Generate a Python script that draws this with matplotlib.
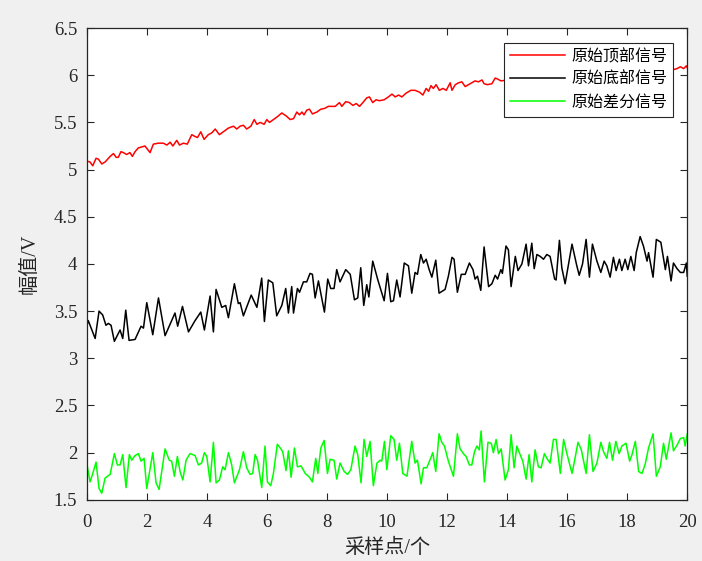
"""
Raw top / bottom / differential signals (MATLAB-style figure)
"""
import matplotlib
matplotlib.use("Agg")
import matplotlib.pyplot as plt
import numpy as np

plt.rcParams['font.family'] = ['Liberation Serif', 'Noto Sans CJK SC']

# red: top signal (part under the legend estimated from the trend)
top_x = [0, 0.10, 0.19, 0.30, 0.38, 0.49, 0.60, 0.77, 0.88, 0.97, 1.04, 1.13,
         1.21, 1.32, 1.43, 1.51, 1.60, 1.71, 1.82, 1.93, 2.10, 2.21, 2.38,
         2.54, 2.66, 2.77, 2.86, 2.99, 3.08, 3.21, 3.34, 3.49, 3.60, 3.68,
         3.79, 3.90, 4.04, 4.16, 4.27, 4.41, 4.54, 4.71, 4.88, 4.99, 5.10,
         5.21, 5.32, 5.46, 5.57, 5.66, 5.77, 5.90, 5.99, 6.08, 6.21, 6.34,
         6.49, 6.63, 6.77, 6.88, 6.99, 7.08, 7.16, 7.23, 7.32, 7.41, 7.51,
         7.66, 7.79, 7.93, 8.04, 8.16, 8.27, 8.41, 8.49, 8.62, 8.74, 8.86,
         8.97, 9.08, 9.19, 9.32, 9.41, 9.52, 9.63, 9.74, 9.90, 10.04, 10.16,
         10.27, 10.38, 10.49, 10.63, 10.79, 10.93, 11.08, 11.19, 11.30, 11.38,
         11.46, 11.54, 11.63, 11.74, 11.86, 11.97, 12.10, 12.16, 12.27, 12.38,
         12.49, 12.60, 12.71, 12.82, 12.93, 13.04, 13.16, 13.23, 13.34, 13.49,
         13.60, 13.68, 13.79, 14.5, 15.5, 16.5, 17.5, 18.5, 19.54, 19.66,
         19.77, 19.88, 19.97, 20.0]
top_v = [5.09, 5.08, 5.04, 5.12, 5.11, 5.06, 5.08, 5.14, 5.17, 5.13, 5.13, 5.19,
         5.18, 5.16, 5.18, 5.14, 5.19, 5.23, 5.24, 5.25, 5.18, 5.27, 5.28,
         5.28, 5.26, 5.29, 5.25, 5.31, 5.26, 5.28, 5.27, 5.37, 5.35, 5.34,
         5.40, 5.32, 5.37, 5.39, 5.43, 5.37, 5.40, 5.44, 5.46, 5.43, 5.46,
         5.47, 5.43, 5.46, 5.53, 5.48, 5.50, 5.48, 5.53, 5.50, 5.53, 5.56,
         5.60, 5.57, 5.53, 5.54, 5.61, 5.58, 5.61, 5.58, 5.63, 5.64, 5.59,
         5.61, 5.64, 5.65, 5.67, 5.67, 5.67, 5.71, 5.67, 5.72, 5.71, 5.68,
         5.70, 5.67, 5.71, 5.76, 5.77, 5.71, 5.74, 5.73, 5.74, 5.77, 5.80,
         5.77, 5.79, 5.77, 5.81, 5.84, 5.84, 5.82, 5.79, 5.86, 5.83,
         5.89, 5.86, 5.90, 5.84, 5.86, 5.84, 5.92, 5.84, 5.90, 5.92,
         5.93, 5.88, 5.90, 5.92, 5.94, 5.93, 5.95, 5.91, 5.90, 5.91,
         5.97, 5.96, 5.94, 5.97, 5.99, 6.01, 6.02, 6.04, 6.06, 6.07,
         6.09, 6.07, 6.10, 6.08]

# black: bottom signal
bot_x = [0, 0.04, 0.27, 0.40, 0.52, 0.63, 0.71, 0.80, 0.91, 1.10, 1.19, 1.29,
         1.40, 1.60, 1.80, 1.88, 1.99, 2.19, 2.38, 2.60, 2.93, 3.02, 3.18,
         3.38, 3.60, 3.79, 3.91, 4.10, 4.21, 4.30, 4.49, 4.62, 4.71, 4.91,
         5.04, 5.10, 5.21, 5.47, 5.66, 5.82, 5.91, 6.04, 6.19, 6.32, 6.49,
         6.62, 6.71, 6.82, 6.88, 7.01, 7.08, 7.21, 7.32, 7.43, 7.51, 7.60,
         7.71, 7.91, 8.02, 8.12, 8.23, 8.32, 8.43, 8.62, 8.77, 8.91, 9.02,
         9.12, 9.22, 9.32, 9.39, 9.52, 9.69, 9.90, 10.01, 10.12, 10.21,
         10.32, 10.43, 10.57, 10.71, 10.82, 10.93, 11.01, 11.12, 11.21,
         11.30, 11.40, 11.49, 11.62, 11.73, 11.93, 12.04, 12.16, 12.23,
         12.34, 12.47, 12.60, 12.74, 12.86, 12.93, 13.01, 13.12, 13.23,
         13.38, 13.49, 13.60, 13.68, 13.79, 13.84, 13.96, 14.04, 14.13,
         14.27, 14.36, 14.49, 14.63, 14.71, 14.82, 14.90, 14.99, 15.10,
         15.21, 15.32, 15.43, 15.58, 15.63, 15.74, 15.82, 15.93, 16.16,
         16.32, 16.40, 16.51, 16.63, 16.74, 16.84, 16.99, 17.12, 17.23,
         17.32, 17.43, 17.54, 17.63, 17.74, 17.82, 17.93, 18.02, 18.12,
         18.23, 18.30, 18.43, 18.54, 18.66, 18.71, 18.86, 18.97, 19.12,
         19.27, 19.34, 19.46, 19.54, 19.66, 19.77, 19.88, 19.97, 20.0]
bot_v = [3.35, 3.40, 3.21, 3.50, 3.46, 3.35, 3.37, 3.35, 3.18, 3.30, 3.21, 3.51,
         3.19, 3.20, 3.34, 3.32, 3.59, 3.25, 3.64, 3.24, 3.48, 3.34, 3.55,
         3.28, 3.40, 3.49, 3.30, 3.66, 3.28, 3.73, 3.54, 3.56, 3.43, 3.79,
         3.58, 3.59, 3.45, 3.67, 3.54, 3.85, 3.39, 3.83, 3.80, 3.45, 3.56,
         3.74, 3.48, 3.76, 3.48, 3.74, 3.70, 3.81, 3.81, 3.90, 3.89, 3.64,
         3.82, 3.49, 3.84, 3.74, 3.74, 3.94, 3.81, 3.94, 3.89, 3.62, 3.64,
         3.96, 3.56, 3.78, 3.65, 4.03, 3.83, 3.61, 3.90, 3.60, 3.61,
         3.83, 3.65, 4.01, 3.98, 3.69, 3.91, 3.89, 4.10, 4.01,
         4.05, 3.94, 3.86, 4.04, 3.69, 3.73, 3.87, 4.07, 4.05,
         3.70, 3.89, 3.89, 4.01, 3.94, 3.84, 3.87, 3.72, 4.18,
         3.76, 3.79, 3.88, 3.84, 3.94, 3.90, 4.19, 4.15, 3.76,
         4.08, 3.93, 4.00, 4.21, 3.98, 4.22, 3.95, 4.10, 4.08,
         4.05, 4.10, 4.08, 3.84, 3.83, 4.25, 3.96, 3.79, 4.21,
         3.98, 3.88, 4.00, 4.26, 3.86, 4.21, 4.03, 3.91, 4.03,
         3.98, 3.86, 4.07, 3.93, 4.05, 3.93, 4.05, 3.94, 4.08,
         3.93, 4.12, 4.29, 4.19, 4.03, 4.12, 3.86, 4.26, 4.23,
         3.94, 4.08, 3.82, 4.01, 3.95, 3.91, 3.91, 4.01, 3.87]

# green: differential signal
diff_x = [0, 0.10, 0.21, 0.30, 0.40, 0.49, 0.60, 0.68, 0.77, 0.91, 1.01, 1.10,
          1.19, 1.30, 1.41, 1.49, 1.60, 1.71, 1.80, 1.90, 1.99, 2.19, 2.30,
          2.40, 2.60, 2.74, 2.82, 2.91, 3.01, 3.10, 3.19, 3.30, 3.43, 3.60,
          3.71, 3.82, 3.91, 3.99, 4.10, 4.21, 4.30, 4.41, 4.52, 4.60, 4.71,
          4.82, 4.91, 5.08, 5.21, 5.32, 5.43, 5.52, 5.60, 5.68, 5.82, 5.93,
          6.01, 6.12, 6.21, 6.34, 6.46, 6.52, 6.63, 6.71, 6.80, 6.91, 7.01,
          7.13, 7.27, 7.41, 7.51, 7.62, 7.69, 7.79, 7.90, 8.01, 8.10, 8.23,
          8.32, 8.43, 8.57, 8.68, 8.79, 8.93, 9.02, 9.13, 9.23, 9.32, 9.43,
          9.54, 9.66, 9.77, 9.82, 9.91, 9.99, 10.12, 10.23, 10.32, 10.41,
          10.52, 10.66, 10.82, 10.93, 11.01, 11.13, 11.21, 11.32, 11.41,
          11.52, 11.62, 11.73, 11.82, 11.91, 12.04, 12.21, 12.34, 12.43,
          12.54, 12.63, 12.74, 12.82, 12.91, 12.99, 13.07, 13.13, 13.24,
          13.36, 13.47, 13.54, 13.63, 13.71, 13.80, 13.93, 14.04, 14.13,
          14.23, 14.32, 14.43, 14.52, 14.63, 14.73, 14.82, 14.93, 15.04,
          15.13, 15.24, 15.32, 15.43, 15.54, 15.63, 15.77, 15.88, 15.99,
          16.16, 16.23, 16.36, 16.47, 16.63, 16.74, 16.86, 16.99, 17.12,
          17.21, 17.32, 17.41, 17.51, 17.62, 17.73, 17.82, 17.96, 18.08,
          18.16, 18.27, 18.38, 18.49, 18.60, 18.71, 18.86, 18.97, 19.10,
          19.21, 19.30, 19.46, 19.54, 19.66, 19.77, 19.88, 19.93, 20.0]
diff_v = [1.87, 1.69, 1.80, 1.90, 1.62, 1.57, 1.73, 1.75, 1.77, 1.99, 1.87, 1.87,
          1.98, 1.63, 1.98, 1.92, 1.97, 1.99, 1.91, 1.94, 1.62, 2.00, 1.68,
          1.61, 2.04, 1.92, 1.91, 1.75, 1.96, 1.80, 1.71, 1.92, 1.99, 1.97,
          1.87, 1.89, 2.00, 1.96, 1.69, 2.11, 1.68, 1.71, 1.85, 1.82, 2.00,
          1.87, 1.68, 1.82, 2.01, 1.84, 1.77, 1.78, 1.98, 1.92, 1.63, 2.07,
          1.69, 1.65, 1.78, 2.09, 2.04, 2.01, 1.81, 2.02, 1.74, 2.05, 1.85,
          1.86, 1.78, 1.74, 1.69, 1.94, 1.78, 2.05, 2.13, 1.78, 1.93, 1.92,
          1.72, 1.89, 1.80, 1.77, 1.82, 2.07, 1.98, 1.68, 2.14, 1.96, 2.12,
          1.65, 1.89, 1.92, 1.91, 2.12, 1.82, 2.18, 2.14, 1.92, 2.10,
          1.78, 1.75, 2.12, 1.89, 1.92, 1.67, 1.84, 1.84, 1.91,
          2.00, 1.80, 2.20, 2.11, 2.07, 1.91, 1.75, 2.20, 2.04,
          1.99, 1.96, 1.87, 1.87, 2.01, 2.07, 2.03, 2.23, 1.69,
          2.11, 2.10, 2.00, 2.14, 1.99, 2.04, 1.71, 1.82, 2.19,
          1.84, 2.07, 1.98, 1.91, 1.72, 1.98, 1.69, 2.03, 1.85,
          1.84, 1.99, 1.94, 1.89, 2.14, 2.14, 1.78, 2.14, 1.99,
          1.78, 1.89, 2.11, 2.03, 1.78, 2.19, 1.80, 1.89, 2.11,
          2.01, 1.94, 2.11, 1.92, 2.12, 1.99, 2.07, 2.10, 1.91,
          1.98, 2.12, 1.80, 1.78, 1.88, 2.05, 2.20, 1.75, 1.85,
          2.10, 1.93, 2.21, 2.02, 2.08, 2.15, 2.16, 2.07, 2.20]

labels = ['原始顶部信号', '原始底部信号', '原始差分信号']


def main():
    fig = plt.figure(figsize=(7.02, 5.61), dpi=100, facecolor='#f0f0f0')
    ax = fig.add_axes([0.124, 0.109, 0.855, 0.841])

    ax.plot(top_x, top_v, color='#ff0000', lw=1.1, label=labels[0])
    ax.plot(bot_x, bot_v, color='#000000', lw=1.1, label=labels[1])
    ax.plot(diff_x, diff_v, color='#00ff00', lw=1.1, label=labels[2])

    ax.set_xlim(0, 20)
    ax.set_ylim(1.5, 6.5)
    ax.set_xticks(np.arange(0, 21, 2))
    ax.set_yticks(np.arange(1.5, 6.6, 0.5))
    ax.set_yticklabels(['1.5', '2', '2.5', '3', '3.5', '4', '4.5', '5',
                        '5.5', '6', '6.5'])
    ax.tick_params(direction='in', length=5, width=0.8, top=True, right=True,
                   labelsize=13.5, colors='#262626')
    ax.tick_params(axis='y', pad=7)
    ax.tick_params(axis='x', pad=10)
    for s in ax.spines.values():
        s.set_linewidth(0.9)
        s.set_color('#262626')

    ax.set_xlabel('采样点/个', fontsize=14.5, color='#262626', labelpad=6)
    ax.set_ylabel('幅值/V', fontsize=14.5, color='#262626', labelpad=10)

    leg = ax.legend(loc='upper right', bbox_to_anchor=(0.977, 0.969),
                    borderaxespad=0, fontsize=11.5, handlelength=3.4,
                    labelspacing=0.42, fancybox=False, framealpha=1,
                    edgecolor='#262626', borderpad=0.4, handletextpad=0.4)
    leg.get_frame().set_linewidth(0.8)

    fig.savefig('out.png', dpi=100, facecolor=fig.get_facecolor())


if __name__ == '__main__':
    main()
